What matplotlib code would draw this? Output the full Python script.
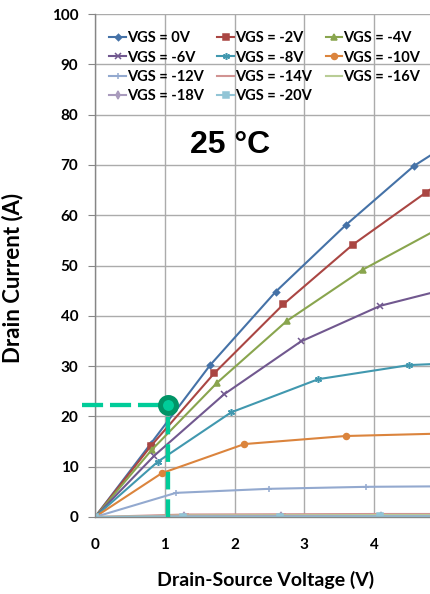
import matplotlib
matplotlib.use("Agg")
import matplotlib.pyplot as plt

# ---- data ----
vgs_labels = ["VGS = 0V", "VGS = -2V", "VGS = -4V", "VGS = -6V", "VGS = -8V",
              "VGS = -10V", "VGS = -12V", "VGS = -14V", "VGS = -16V",
              "VGS = -18V", "VGS = -20V"]

v0_x = [0, 0.80, 1.65, 2.59, 3.59, 4.57, 5.0]
v0_y = [0, 14.6, 30.2, 44.8, 58.0, 69.8, 73.6]
v2_x = [0, 0.80, 1.71, 2.70, 3.69, 4.74, 5.0]
v2_y = [0, 14.1, 28.6, 42.3, 54.1, 64.5, 67.0]
v4_x = [0, 0.81, 1.75, 2.75, 3.84, 5.0]
v4_y = [0, 13.3, 26.7, 39.0, 49.2, 57.9]
v6_x = [0, 0.85, 1.85, 2.95, 4.09, 5.0]
v6_y = [0, 12.2, 24.4, 34.9, 42.0, 45.2]
v8_x = [0, 0.90, 1.95, 3.20, 4.50, 5.0]
v8_y = [0, 11.0, 20.8, 27.4, 30.2, 30.5]
v10_x = [0, 0.955, 2.14, 3.59, 5.0]
v10_y = [0, 8.7, 14.5, 16.1, 16.6]
v12_x = [0, 1.16, 2.49, 3.89, 5.0]
v12_y = [0, 4.8, 5.6, 6.0, 6.1]
v14_x = [0, 1.30, 2.70, 4.10, 5.0]
v14_y = [0, 0.5, 0.55, 0.6, 0.6]
v16_x = [0, 1.30, 2.70, 4.10, 5.0]
v16_y = [0, 0.3, 0.35, 0.4, 0.4]
v18_x = [0, 1.28, 2.67, 4.10, 5.0]
v18_y = [0, 0.15, 0.2, 0.2, 0.2]
v20_x = [0, 1.26, 2.65, 4.09, 5.0]
v20_y = [0, 0.05, 0.05, 0.1, 0.1]

series_x = [v0_x, v2_x, v4_x, v6_x, v8_x, v10_x, v12_x, v14_x, v16_x, v18_x, v20_x]
series_y = [v0_y, v2_y, v4_y, v6_y, v8_y, v10_y, v12_y, v14_y, v16_y, v18_y, v20_y]

colors = ["#4572A7", "#AA4643", "#89A54E", "#71588F", "#4198AF", "#DB843D",
          "#93A9CF", "#D19392", "#B9CD96", "#A99BBD", "#92C5D6"]
markers = ["D", "s", "^", "x", (6, 2, 0), "o", "+", "_", "None", "d", "s"]
msizes = [3.2, 4.2, 4.5, 4.5, 5, 4.3, 5, 5, 3, 4, 4.8]

op_point_v = [1.05]
op_point_i = [22.3]

x_ticks = [0, 1, 2, 3, 4]
y_ticks = [0, 10, 20, 30, 40, 50, 60, 70, 80, 90, 100]

# ---- figure ----
plt.rcParams['font.family'] = ['Lato', 'DejaVu Sans']
fig = plt.figure(figsize=(4.30, 5.94), dpi=100)
ax = fig.add_axes([95/430, 1-517/594, 1-95/430, 503/594])

handles = []
for xs, ys, c, m, ms, lab in zip(series_x, series_y, colors, markers, msizes, vgs_labels):
    h, = ax.plot(xs, ys, color=c, lw=1.5, marker=m, ms=ms, mfc=c, mec=c,
                 mew=1.1, label=lab)
    handles.append(h)

# operating point annotation
gc = "#00CC99"
ax.plot([-0.19, op_point_v[0]], [op_point_i[0], op_point_i[0]], color=gc, lw=3.1,
        dashes=(4.9, 1.6), clip_on=False, zorder=5, dash_capstyle='butt')
ax.plot([op_point_v[0], op_point_v[0]], [0, op_point_i[0]], color=gc, lw=3.1,
        dashes=(4.1, 2.3), zorder=5, dash_capstyle='butt')
ax.plot(op_point_v, op_point_i, marker="o", ms=11.5, mfc="#00CC99", mec="#009466",
        mew=3.6, zorder=6, clip_on=False)

ax.set_xlim(0, 4.8)
ax.set_ylim(0, 100)
ax.set_xticks(x_ticks)
ax.set_yticks(y_ticks)
ax.grid(True, color="#ababab", lw=1.0)
ax.set_axisbelow(True)
for s in ["top", "right"]:
    ax.spines[s].set_visible(False)
for s in ["left", "bottom"]:
    ax.spines[s].set_color("#868686")
    ax.spines[s].set_linewidth(1.0)
ax.tick_params(axis='y', direction='out', length=5, color="#868686", pad=7,
               labelsize=11)
ax.tick_params(axis='x', direction='out', length=0, pad=15, labelsize=11)
for lab in ax.get_xticklabels() + ax.get_yticklabels():
    lab.set_fontweight('bold')

ax.set_ylabel("Drain Current (A)", fontsize=16, fontweight='bold')
ax.yaxis.set_label_coords(-0.215, (517-278)/503)
ax.set_xlabel("Drain-Source Voltage (V)", fontsize=14, fontweight='bold')
ax.xaxis.set_label_coords((266-95)/335, -0.108)

fig.text(0.535, 0.756, "25 °C", ha='center', va='center', fontsize=23,
         fontweight='bold', family='Liberation Sans')

order = [0, 3, 6, 9, 1, 4, 7, 10, 2, 5, 8]
leg = ax.legend([handles[i] for i in order], [vgs_labels[i] for i in order],
                ncol=3, frameon=False, loc='upper left',
                bbox_to_anchor=(0.012, 0.986), handlelength=1.15,
                handletextpad=0.05, columnspacing=0.95, labelspacing=0.36,
                borderaxespad=0.3, prop={'weight': 'bold', 'size': 10.5,
                                         'family': ['Lato', 'DejaVu Sans']})

fig.savefig("out.png", dpi=100)
